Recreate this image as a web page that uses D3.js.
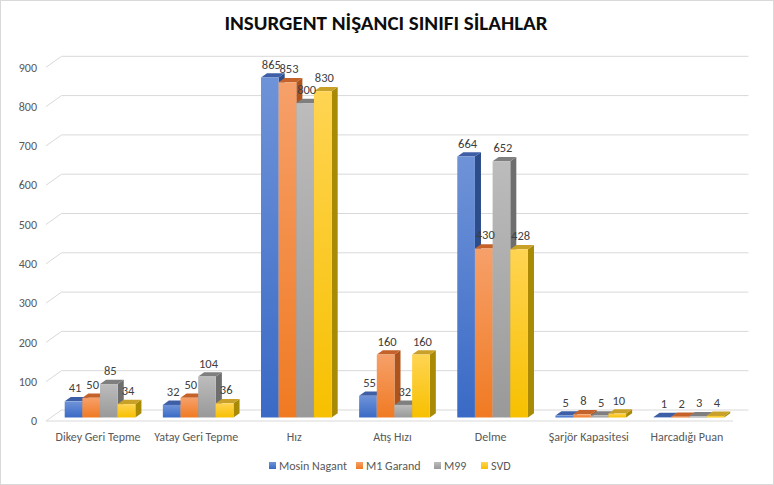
<!DOCTYPE html>
<html><head>
<meta charset="utf-8">
<title>Insurgent Nişancı Sınıfı Silahlar</title>
<script src="https://d3js.org/d3.v7.min.js"></script>
<style>
  body { margin: 0; background: #fff; }
  text { font-family: Carlito, Lato, "Liberation Sans", sans-serif; }
  .gridlines line, .gridlines path { stroke: #d9d9d9; fill: none; }
  .tick-label { fill: #595959; font-size: 12px; }
  .cat-label { fill: #595959; font-size: 12px; }
  .val-label { fill: #404040; font-size: 12.5px; }
  .legend text { fill: #595959; font-size: 12px; }
</style>
</head>
<body>
<svg id="chart" width="774" height="485"></svg>
<script>
// --- data
const categories = ["Dikey Geri Tepme", "Yatay Geri Tepme", "Hız", "Atış Hızı", "Delme", "Şarjör Kapasitesi", "Harcadığı Puan"];
const seriesNames = ["Mosin Nagant", "M1 Garand", "M99", "SVD"];
const mosinNagant = [41, 32, 865, 55, 664, 5, 1];
const m1Garand = [50, 50, 853, 160, 430, 8, 2];
const m99 = [85, 104, 800, 32, 652, 5, 3];
const svd = [34, 36, 830, 160, 428, 10, 4];
const yTicks = [0, 100, 200, 300, 400, 500, 600, 700, 800, 900];
const title = "INSURGENT NİŞANCI SINIFI SİLAHLAR";

const seriesValues = [mosinNagant, m1Garand, m99, svd];

// colours per series: front gradient top/bottom, top face, side face
const palette = [
  {top: "#6f93d8", bottom: "#3a6ac6", cap: "#3e5fa6", side: "#2d4c8a"},
  {top: "#f6a06a", bottom: "#f07a22", cap: "#c4622a", side: "#ad531b"},
  {top: "#bcbcbc", bottom: "#999999", cap: "#7f7f7f", side: "#6e6e6e"},
  {top: "#ffd452", bottom: "#f7c000", cap: "#c9a028", side: "#a88a05"}
];

const svg = d3.select("svg#chart");
const width = +svg.attr("width");
const height = +svg.attr("height");

// chart border
svg.append("rect")
   .attr("x", 0.5).attr("y", 0.5)
   .attr("width", width - 1).attr("height", height - 1)
   .attr("fill", "#fff").attr("stroke", "#d9d9d9");

// front plane of the 3D box
const plotLeft = 46, plotRight = 733;
const depth = {dx: 15.5, dy: -11};
const barFront = 0.32, barBack = 0.71;   // fractions of depth used by bars

const yScale = d3.scaleLinear().domain([0, 900]).range([421, 67.3]);
const xScale = d3.scaleBand().domain(categories).range([plotLeft, plotRight])
                 .paddingInner(0.28).paddingOuter(0.14);
const sScale = d3.scaleBand().domain(seriesNames).range([0, xScale.bandwidth()]);

// gradients
const defs = svg.append("defs");
palette.forEach((p, i) => {
  const g = defs.append("linearGradient").attr("id", "grad" + i)
                .attr("x1", 0).attr("y1", 0).attr("x2", 0).attr("y2", 1);
  g.append("stop").attr("offset", "0%").attr("stop-color", p.top);
  g.append("stop").attr("offset", "100%").attr("stop-color", p.bottom);
});

// gridlines (back wall + left wall diagonal)
const grid = svg.append("g").attr("class", "gridlines");
yTicks.forEach(t => {
  const y = yScale(t);
  grid.append("path")
      .attr("d", "M" + plotLeft + "," + y + "L" + (plotLeft + depth.dx) + "," + (y + depth.dy) +
                 "H" + (plotRight + depth.dx));
});
// floor front edge
grid.append("line")
    .attr("x1", plotLeft).attr("x2", plotRight)
    .attr("y1", yScale(0)).attr("y2", yScale(0));

// y tick labels
svg.append("g").selectAll("text")
   .data(yTicks).join("text")
   .attr("class", "tick-label")
   .attr("x", 37).attr("y", d => yScale(d))
   .attr("dy", "0.35em")
   .attr("text-anchor", "end")
   .text(d => d);

// bars
const fx = depth.dx * barFront, fy = depth.dy * barFront;
const bdx = depth.dx * (barBack - barFront), bdy = depth.dy * (barBack - barFront);
const bars = svg.append("g");
const labels = svg.append("g");

categories.forEach((c, ci) => {
  seriesValues.forEach((vals, si) => {
    const v = vals[ci];
    const p = palette[si];
    const x0 = xScale(c) + sScale(seriesNames[si]) + fx;
    const x1 = x0 + sScale.bandwidth();
    const yb = yScale(0) + fy;
    const yt = yScale(v) + fy;
    const g = bars.append("g");
    // side face
    g.append("path")
     .attr("d", "M" + x1 + "," + yb + "L" + (x1 + bdx) + "," + (yb + bdy) +
                "L" + (x1 + bdx) + "," + (yt + bdy) + "L" + x1 + "," + yt + "Z")
     .attr("fill", p.side);
    // top face
    g.append("path")
     .attr("d", "M" + x0 + "," + yt + "L" + x1 + "," + yt +
                "L" + (x1 + bdx) + "," + (yt + bdy) + "L" + (x0 + bdx) + "," + (yt + bdy) + "Z")
     .attr("fill", p.cap);
    // front face
    g.append("rect")
     .attr("x", x0).attr("y", yt)
     .attr("width", x1 - x0).attr("height", Math.max(0.01, yb - yt))
     .attr("fill", "url(#grad" + si + ")");

    labels.append("text")
          .attr("class", "val-label")
          .attr("x", (x0 + x1) / 2 + 1.5)
          .attr("y", yt - 9)
          .attr("text-anchor", "middle")
          .text(v);
  });
});

// category labels
svg.append("g").selectAll("text")
   .data(categories).join("text")
   .attr("class", "cat-label")
   .attr("x", d => xScale(d) + xScale.bandwidth() / 2 + 3)
   .attr("y", 441)
   .attr("text-anchor", "middle")
   .text(d => d);

// title
svg.append("text")
   .attr("x", 386).attr("y", 30)
   .attr("text-anchor", "middle")
   .attr("font-size", "21px")
   .attr("font-weight", "bold")
   .attr("fill", "#0d0d0d")
   .text(title);

// legend
const legendX = [269, 356, 434, 481];
const legend = svg.append("g").attr("class", "legend");
seriesNames.forEach((s, i) => {
  legend.append("rect")
        .attr("x", legendX[i]).attr("y", 462)
        .attr("width", 7).attr("height", 7)
        .attr("fill", "url(#grad" + i + ")");
  legend.append("text")
        .attr("x", legendX[i] + 10).attr("y", 469.5)
        .text(s);
});
</script>
</body>
</html>
